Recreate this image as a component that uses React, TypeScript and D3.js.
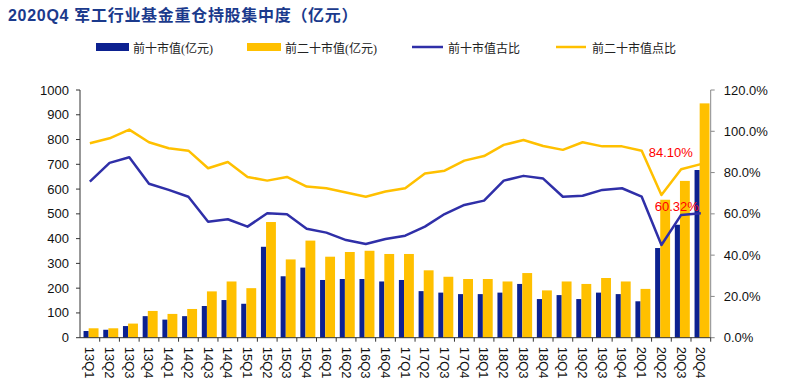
import React from 'react';
import * as d3 from 'd3';

const quarters = [
  '13Q1', '13Q2', '13Q3', '13Q4', '14Q1', '14Q2', '14Q3', '14Q4',
  '15Q1', '15Q2', '15Q3', '15Q4', '16Q1', '16Q2', '16Q3', '16Q4',
  '17Q1', '17Q2', '17Q3', '17Q4', '18Q1', '18Q2', '18Q3', '18Q4',
  '19Q1', '19Q2', '19Q3', '19Q4', '20Q1', '20Q2', '20Q3', '20Q4'
];

// 前十市值 / 前二十市值 (亿元)
const top10Value = [27, 32, 47, 87, 73, 87, 128, 152, 137, 367, 248, 283, 233, 237, 237, 227,
  233, 188, 182, 176, 176, 182, 217, 156, 172, 156, 182, 176, 147, 362, 456, 677];
const top20Value = [38, 38, 57, 108, 96, 116, 187, 227, 200, 467, 316, 392, 327, 346, 351, 338,
  338, 272, 246, 237, 237, 227, 261, 191, 227, 217, 241, 227, 197, 557, 633, 946];

// 占比 (%)
const top10Pct = [75.6, 84.7, 87.4, 74.6, 71.6, 68.3, 56.2, 57.4, 53.8, 60.3, 59.8, 52.8, 50.9, 47.3, 45.4, 47.8,
  49.4, 53.8, 59.9, 64.3, 66.4, 76.1, 78.4, 77.1, 68.3, 68.8, 71.6, 72.4, 68.3, 44.9, 59.5, 60.32];
const top20Pct = [94.2, 96.6, 100.8, 94.7, 91.8, 90.6, 82.1, 85.1, 77.9, 76.1, 77.9, 73.2, 72.4, 70.3, 68.3, 70.8,
  72.4, 79.6, 80.9, 85.8, 88.0, 93.4, 95.8, 92.9, 91.0, 94.7, 92.7, 92.7, 90.6, 69.1, 81.6, 84.1];

const leftTicks = [0, 100, 200, 300, 400, 500, 600, 700, 800, 900, 1000];
const rightTicks = [0, 20, 40, 60, 80, 100, 120];

const title = '2020Q4 军工行业基金重仓持股集中度（亿元）';
const legendNames = ['前十市值(亿元)', '前二十市值(亿元)', '前十市值古比', '前二十市值点比'];

const BLUE = '#0c2190';
const YELLOW = '#ffc000';
const LINE_BLUE = '#2f2fa8';

const width = 800;
const height = 384;
const margin = { top: 90, right: 89.3, bottom: 46.3, left: 80 };

export default function App() {
  const innerW = width - margin.left - margin.right;
  const innerH = height - margin.top - margin.bottom;

  const x = d3.scaleBand<string>().domain(quarters).range([0, innerW]).padding(0);
  const bw = x.bandwidth();
  const yL = d3.scaleLinear().domain([0, 1000]).range([innerH, 0]);
  const yR = d3.scaleLinear().domain([0, 120]).range([innerH, 0]);

  const cx = (i: number) => (x(quarters[i]) as number) + bw / 2;
  const line = d3.line<number>().x((_, i) => cx(i)).y(d => yR(d));

  const axisFont = 'Arial, "Liberation Sans", sans-serif';
  const cjkFont = '"Liberation Serif", "Noto Sans CJK SC", serif';
  const last = quarters.length - 1;

  return (
    <svg width={width} height={height} style={{ position: 'absolute', left: 0, top: 0, background: '#fff' }}>
      <text x={8} y={21} fontFamily={'Arial, "Noto Sans CJK SC", sans-serif'} fontWeight="bold"
        fontSize={16} letterSpacing={0.7} fill="#1b3a8c">{title}</text>

      {/* legend */}
      <g fontFamily={cjkFont} fontSize={12} fill="#222">
        <rect x={96} y={43} width={33} height={8} fill={BLUE} />
        <text x={133} y={53}>{legendNames[0]}</text>
        <rect x={247} y={43} width={34} height={8} fill={YELLOW} />
        <text x={285} y={53}>{legendNames[1]}</text>
        <line x1={412} x2={443} y1={47} y2={47} stroke={LINE_BLUE} strokeWidth={2.5} />
        <text x={448} y={53}>{legendNames[2]}</text>
        <line x1={556} x2={586} y1={47} y2={47} stroke={YELLOW} strokeWidth={2.5} />
        <text x={592} y={53}>{legendNames[3]}</text>
      </g>

      <g transform={`translate(${margin.left},${margin.top})`}>
        {/* bars */}
        {quarters.map((q, i) => (
          <g key={q}>
            <rect x={(x(q) as number) + bw * 0.18} y={yL(top10Value[i])} width={bw * 0.26}
              height={innerH - yL(top10Value[i])} fill={BLUE} />
            <rect x={(x(q) as number) + bw * 0.44} y={yL(top20Value[i])} width={bw * 0.5}
              height={innerH - yL(top20Value[i])} fill={YELLOW} />
          </g>
        ))}

        {/* lines */}
        <path d={line(top20Pct) || ''} fill="none" stroke={YELLOW} strokeWidth={2.5} strokeLinejoin="round" />
        <path d={line(top10Pct) || ''} fill="none" stroke={LINE_BLUE} strokeWidth={2.5} strokeLinejoin="round" />

        {/* annotations */}
        <text x={cx(last) - 8} y={yR(top20Pct[last]) - 7} textAnchor="end" fontFamily={axisFont}
          fontSize={13} fill="#ff0000">{top20Pct[last].toFixed(2)}%</text>
        <text x={cx(last) - 2} y={yR(top10Pct[last]) - 2} textAnchor="end" fontFamily={axisFont}
          fontSize={13} fill="#ff0000">{top10Pct[last].toFixed(2)}%</text>

        {/* left axis */}
        <line x1={0} x2={0} y1={0} y2={innerH} stroke="#333" />
        {leftTicks.map(t => (
          <g key={t} transform={`translate(0,${yL(t)})`}>
            <line x1={-4} x2={0} stroke="#333" />
            <text x={-11} dy="0.35em" textAnchor="end" fontFamily={axisFont} fontSize={13} fill="#111">{t}</text>
          </g>
        ))}

        {/* right axis */}
        <line x1={innerW} x2={innerW} y1={0} y2={innerH} stroke="#888" />
        {rightTicks.map(t => (
          <g key={t} transform={`translate(${innerW},${yR(t)})`}>
            <line x1={0} x2={4} stroke="#888" />
            <text x={13} dy="0.35em" fontFamily={axisFont} fontSize={13} fill="#111">{t.toFixed(1)}%</text>
          </g>
        ))}

        {/* bottom axis */}
        <line x1={0} x2={innerW} y1={innerH} y2={innerH} stroke="#333" />
        {quarters.map((q, i) => (
          <g key={q}>
            <line x1={(x(q) as number) + bw} x2={(x(q) as number) + bw} y1={innerH} y2={innerH + 4} stroke="#333" />
            <text transform={`translate(${cx(i)},${innerH + 9}) rotate(90)`} dy="0.35em"
              fontFamily={axisFont} fontSize={13} fill="#111">{q}</text>
          </g>
        ))}
      </g>
    </svg>
  );
}
